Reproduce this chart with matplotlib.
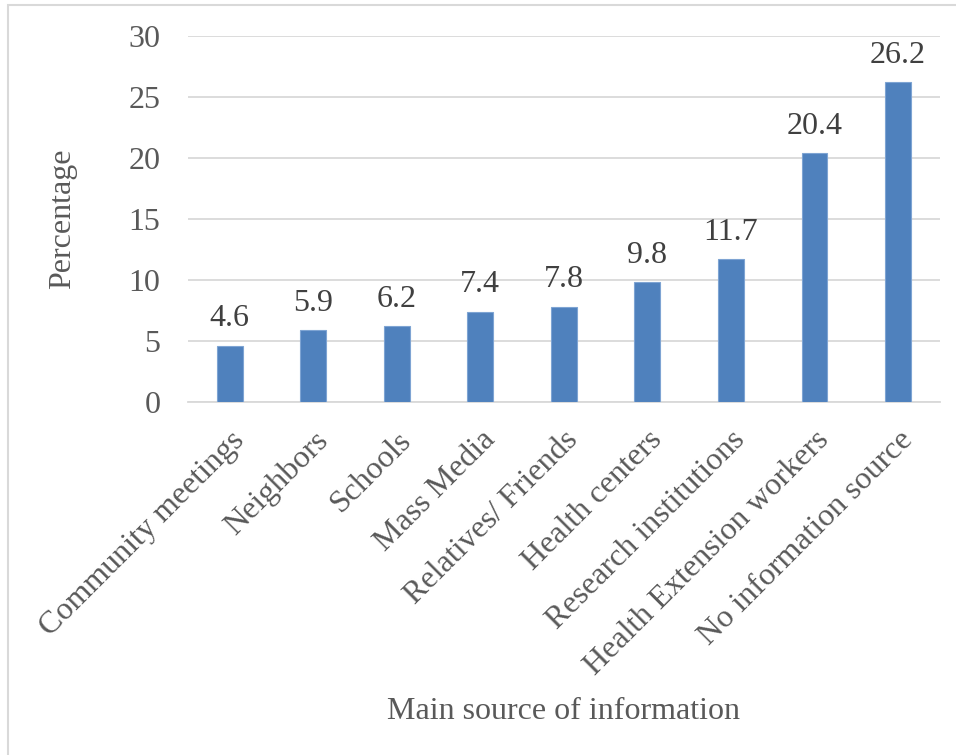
import matplotlib.pyplot as plt
from matplotlib.patches import Rectangle

categories = ['Community meetings', 'Neighbors', 'Schools', 'Mass Media', 'Relatives/ Friends',
              'Health centers', 'Research institutions', 'Health Extension workers', 'No information source']
values = [4.6, 5.9, 6.2, 7.4, 7.8, 9.8, 11.7, 20.4, 26.2]
yticks = [0, 5, 10, 15, 20, 25, 30]

plt.rcParams['font.family'] = ['Liberation Serif', 'DejaVu Serif']

fig = plt.figure(figsize=(9.56, 7.55), dpi=100)
ax = fig.add_axes([0.1967, 0.4675, 0.7863, 0.4848])

x = range(len(categories))
bars = ax.bar(x, values, width=0.31, color='#4f81bd', edgecolor='#7ea4d3', linewidth=0.8, zorder=3)
for xi, v in zip(x, values):
    ax.annotate('%.1f' % v, (xi, v), xytext=(0, 9), textcoords='offset points',
                ha='center', va='bottom', fontsize=23, color='#404040')

ax.set_xlim(-0.5, len(categories) - 0.5)
ax.set_ylim(0, 30)
ax.set_yticks(yticks)
ax.set_xticks(list(x))
ax.set_xticklabels(categories, rotation=45, ha='right', rotation_mode='anchor')
ax.tick_params(axis='both', length=0, labelcolor='#595959', labelsize=23)
ax.tick_params(axis='y', pad=20)
ax.tick_params(axis='x', pad=17)
ax.grid(axis='y', color='#d9d9d9', linewidth=1.3, zorder=0)
for s in ['top', 'right', 'left']:
    ax.spines[s].set_visible(False)
ax.spines['bottom'].set_color('#d9d9d9')
ax.spines['bottom'].set_linewidth(1.3)

ax.set_ylabel('Percentage', fontsize=23, color='#595959', labelpad=37)
fig.text(0.589, 0.058, 'Main source of information', ha='center', va='center', fontsize=23, color='#595959')

# chart border (cropped on right/bottom in the source image)
fig.patches.append(Rectangle((8 / 956, -0.05), 1.2, 1 - 5 / 755 + 0.05, transform=fig.transFigure,
                             fill=False, edgecolor='#d9d9d9', linewidth=1.5))

fig.savefig('out.png', dpi=100)
